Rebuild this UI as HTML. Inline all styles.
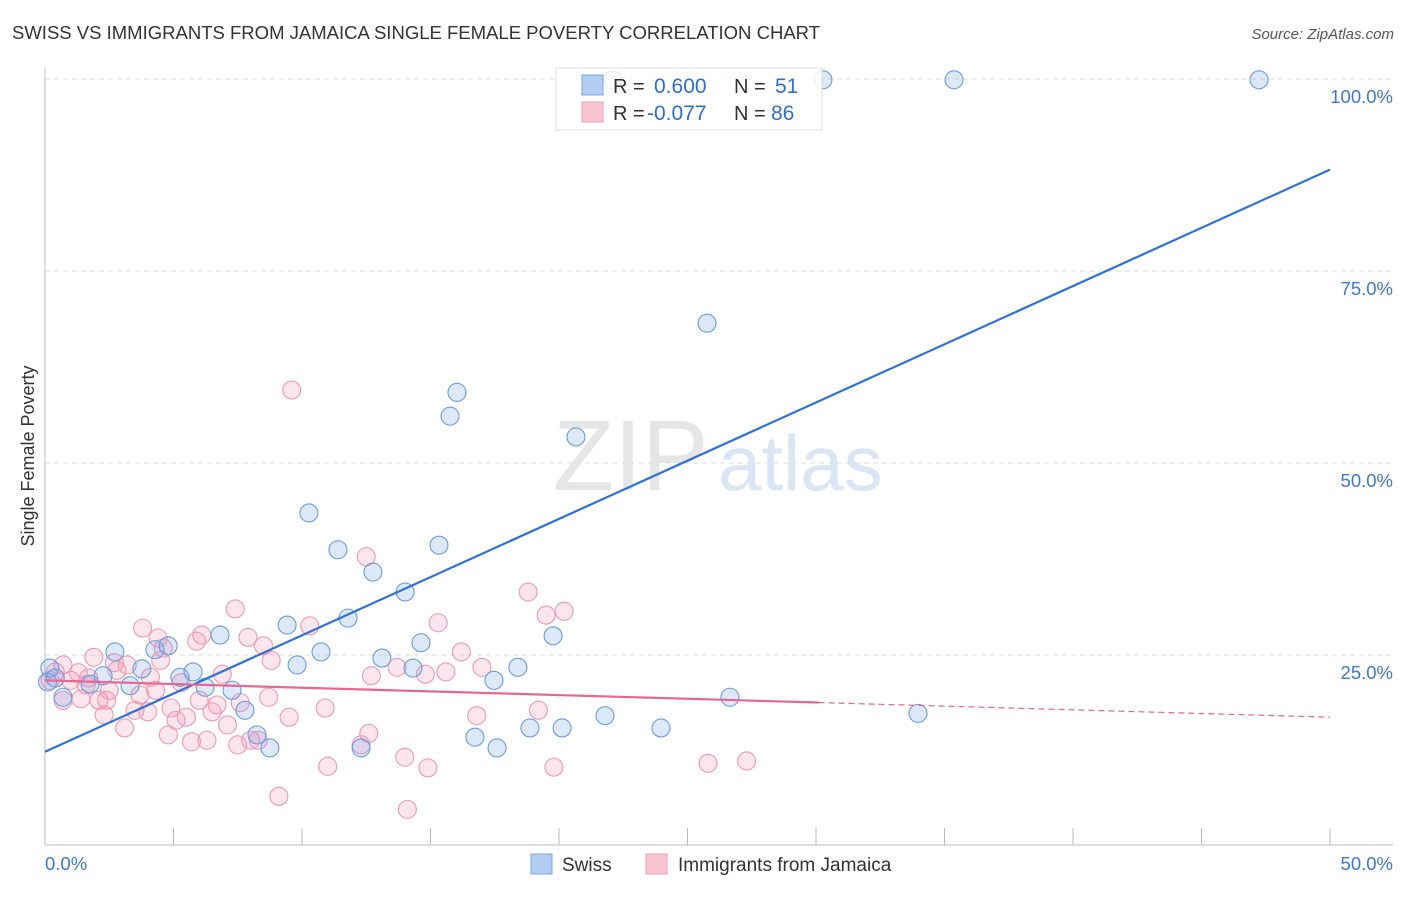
<!DOCTYPE html>
<html><head><meta charset="utf-8">
<style>
body{margin:0;background:#fff;font-family:"Liberation Sans",sans-serif;}
svg text{font-family:"Liberation Sans",sans-serif;}
</style></head>
<body>
<svg id="chart" width="1406" height="892" xmlns="http://www.w3.org/2000/svg">
<text x="12" y="39" font-size="18.5" fill="#333" textLength="808">SWISS VS IMMIGRANTS FROM JAMAICA SINGLE FEMALE POVERTY CORRELATION CHART</text>
<text x="1394" y="39" font-size="15" fill="#555" text-anchor="end" font-style="italic">Source: ZipAtlas.com</text>
<g id="grid"></g>
<g>
<text x="553" y="490" font-size="100" font-family="Liberation Serif" fill="#e0e0e0" opacity="0.8">ZIP</text>
<text x="718" y="490" font-size="78" fill="#d3e0f2" opacity="0.8">atlas</text>
</g>
<g id="points"></g>
<g id="lines"></g>
<text transform="translate(34,456) rotate(-90)" font-size="18" fill="#333" text-anchor="middle">Single Female Poverty</text>
<g>
<rect x="556" y="68" width="266" height="62" fill="#fff" fill-opacity="0.85" stroke="#ddd"/>
<rect x="582" y="75" width="21" height="20" fill="#b3cdf2" stroke="#7aa6e0"/>
<rect x="582" y="102" width="21" height="20" fill="#f9c5d3" stroke="#eb9cb3"/>
<text x="613" y="93" font-size="20" fill="#333">R =</text>
<text x="654" y="93" font-size="21" fill="#2f6fd0">0.600</text>
<text x="734" y="93" font-size="20" fill="#333">N =</text>
<text x="775" y="93" font-size="21" fill="#2f6fd0">51</text>
<text x="613" y="120" font-size="20" fill="#333">R =</text>
<text x="647" y="120" font-size="21" fill="#2f6fd0">-0.077</text>
<text x="734" y="120" font-size="20" fill="#333">N =</text>
<text x="771" y="120" font-size="21" fill="#2f6fd0">86</text>
</g>
<g>
<rect x="531" y="854" width="21" height="20" fill="#b3cdf2" stroke="#7aa6e0"/>
<text x="562" y="871" font-size="19" fill="#333">Swiss</text>
<rect x="646" y="854" width="21" height="20" fill="#f9c5d3" stroke="#eb9cb3"/>
<text x="678" y="871" font-size="19" fill="#333">Immigrants from Jamaica</text>
</g>
</svg>
<script>
const swissX=[0.19,0.7,1.75,2.72,2.26,3.31,3.77,4.28,4.79,5.25,5.76,6.23,6.81,7.28,7.78,8.25,8.75,9.42,9.81,10.27,10.74,11.4,11.79,12.3,12.76,13.11,14.01,14.32,14.63,15.33,15.76,16.03,16.73,17.47,17.59,18.4,18.87,19.77,20.12,20.66,21.79,23.97,25.76,26.65,30.27,33.97,35.37,47.24,0.1,0.4,22.1];
const swissY=[23.3,19.5,21.2,25.4,22.3,21.0,23.2,25.7,26.2,22.1,22.8,20.8,27.6,20.4,17.8,14.6,12.9,28.9,23.7,43.5,25.4,38.7,29.8,12.9,35.8,24.6,33.2,23.3,26.6,39.3,56.1,59.2,14.3,21.7,12.9,23.4,15.5,27.5,15.5,53.4,17.1,15.5,68.2,19.5,99.9,17.4,99.9,99.9,21.5,22.0,99.9];
const jamX=[0.2,0.4,0.7,1.0,1.3,1.6,1.9,2.1,2.3,2.5,2.8,3.1,3.2,3.5,3.7,3.8,4.0,4.1,4.3,4.4,4.5,4.6,4.8,4.9,5.1,5.3,5.5,5.7,5.9,6.0,6.1,6.3,6.5,6.7,6.9,7.1,7.4,7.5,7.6,7.9,8.0,8.3,8.5,8.7,8.8,9.1,9.5,9.6,10.3,10.9,11.0,12.3,12.5,12.6,12.7,13.7,14.0,14.1,14.8,14.9,15.3,15.6,16.2,16.8,17.0,18.8,19.2,19.5,19.8,20.2,25.8,27.3,0.7,1.7,2.7,2.4,1.4];
const jamY=[21.7,22.8,23.7,21.7,22.7,21.1,24.7,19.1,17.2,20.4,23.0,15.5,23.7,17.8,19.8,28.5,17.6,22.1,20.4,27.2,24.3,25.9,14.6,18.1,16.5,21.4,16.9,13.7,26.8,19.1,27.6,13.9,17.6,18.5,22.5,15.9,31.0,13.3,18.8,27.3,13.9,13.9,26.2,19.5,24.3,6.6,16.9,59.5,28.8,18.1,10.5,13.3,37.8,14.8,22.3,23.4,11.7,4.9,22.5,10.3,29.2,22.8,25.4,17.1,23.4,33.2,17.8,30.2,10.4,30.7,10.9,11.2,19.1,22.0,24.0,19.1,19.3];
const swissTrend=[12.4,88.2];
const jamTrend=[21.7,16.9];
const jamSolidEnd=30.1;
const yTicks=[25,50,75,100];
const yTickLabels=["25.0%","50.0%","75.0%","100.0%"];
const xTickVals=[0,5,10,15,20,25,30,35,40,45,50];

const NS="http://www.w3.org/2000/svg";
const X0=45,X1=1330,Y0=847,YS=7.68;
const sx=v=>X0+(X1-X0)*v/50;
const sy=v=>Y0-v*YS;
function mk(t,a,p){const e=document.createElementNS(NS,t);for(const k in a)e.setAttribute(k,a[k]);p.appendChild(e);return e;}
const grid=document.getElementById('grid');
yTicks.forEach((v,i)=>{
  const l=mk('line',{x1:45,x2:1393,y1:sy(v),y2:sy(v),stroke:'#ddd','stroke-dasharray':'5,4'},grid);
  
  
  const t=mk('text',{x:1393,y:sy(v)+24,'font-size':18.5,fill:'#3d78d6','text-anchor':'end'},grid);
  t.textContent=yTickLabels[i];
  
  
});
let ax=mk('line',{x1:45,x2:45,y1:68,y2:845,stroke:'#bbb'},grid);


ax=mk('line',{x1:45,x2:1393,y1:845,y2:845,stroke:'#bbb'},grid);


xTickVals.forEach(v=>{
  const l=mk('line',{x1:sx(v),x2:sx(v),y1:828,y2:845,stroke:'#bbb'},grid);
  
  
});
let t=mk('text',{x:45,y:870,'font-size':18.5,fill:'#3d78d6'},grid);t.textContent='0.0%';


t=mk('text',{x:1393,y:870,'font-size':18.5,fill:'#3d78d6','text-anchor':'end'},grid);t.textContent='50.0%';



const pts=document.getElementById('points');
jamX.forEach((x,i)=>{
  const c=mk('circle',{cx:sx(x),cy:sy(jamY[i]),r:9,fill:'rgba(242,150,178,0.25)',stroke:'#ec9ab3','stroke-width':1.1},pts);
  
  
});
swissX.forEach((x,i)=>{
  const c=mk('circle',{cx:sx(x),cy:sy(swissY[i]),r:9,fill:'rgba(120,165,230,0.25)',stroke:'#6a9ce0','stroke-width':1.1},pts);
  
  
});
const ln=document.getElementById('lines');
let l=mk('line',{x1:sx(0),y1:sy(swissTrend[0]),x2:sx(50),y2:sy(swissTrend[1]),stroke:'#2f72d6','stroke-width':2.2},ln);


const jy=x=>jamTrend[0]+(jamTrend[1]-jamTrend[0])*x/50;
l=mk('line',{x1:sx(0),y1:sy(jy(0)),x2:sx(jamSolidEnd),y2:sy(jy(jamSolidEnd)),stroke:'#e8668f','stroke-width':2.2},ln);


l=mk('line',{x1:sx(jamSolidEnd),y1:sy(jy(jamSolidEnd)),x2:sx(50),y2:sy(jy(50)),stroke:'#e8668f','stroke-width':1.2,'stroke-dasharray':'6,4'},ln);


</script>
</body></html>
